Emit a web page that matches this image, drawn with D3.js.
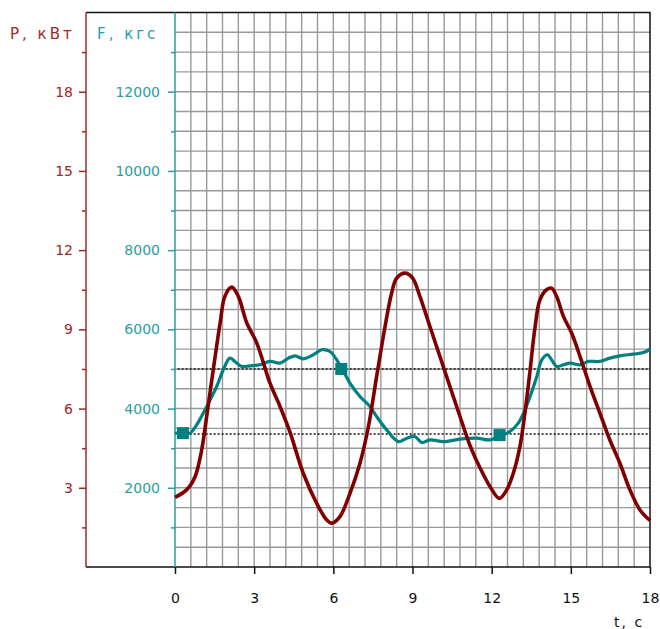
<!DOCTYPE html>
<html>
<head>
<meta charset="utf-8">
<script src="https://cdn.jsdelivr.net/npm/d3@7"></script>
<style>
  body { margin: 0; background: #fff; }
  text { font-family: "DejaVu Sans", sans-serif; font-size: 14px; }
</style>
</head>
<body>
<div id="chart"></div>
<script>
// power P, kW (dark red curve)
const pTime = [0, 0.44, 0.76, 1.01, 1.2, 1.45, 1.71, 1.89, 2.15, 2.4, 2.72, 3.1, 3.6, 3.98, 4.36, 4.86, 5.37, 5.75, 5.94, 6.25, 6.63, 7.01, 7.33, 7.64, 7.96, 8.21, 8.4, 8.72, 9.0, 9.28, 9.66, 10.04, 10.42, 10.8, 11.18, 11.56, 11.94, 12.29, 12.57, 12.82, 13.07, 13.26, 13.45, 13.64, 13.83, 14.08, 14.27, 14.46, 14.72, 15.03, 15.35, 15.73, 16.1, 16.48, 16.86, 17.24, 17.62, 18];
const pValue = [2.64, 2.92, 3.42, 4.43, 5.7, 7.47, 9.24, 10.25, 10.6, 10.25, 9.24, 8.48, 6.96, 6.08, 5.1, 3.55, 2.41, 1.78, 1.66, 1.91, 2.79, 3.93, 5.32, 7.21, 9.11, 10.38, 10.94, 11.13, 10.95, 10.25, 9.11, 7.97, 6.83, 5.7, 4.6, 3.75, 3.04, 2.6, 2.92, 3.55, 4.56, 5.83, 7.4, 9.05, 10.12, 10.5, 10.56, 10.25, 9.49, 8.86, 7.97, 6.83, 5.83, 4.81, 3.93, 2.92, 2.16, 1.76];

// force F, kgf (teal curve)
const fTime = [0, 0.32, 0.57, 0.82, 1.07, 1.33, 1.58, 1.83, 2.08, 2.27, 2.53, 2.84, 3.22, 3.6, 3.98, 4.3, 4.55, 4.86, 5.24, 5.56, 5.87, 6.13, 6.35, 6.63, 7.01, 7.39, 7.64, 8.02, 8.46, 8.78, 9.09, 9.35, 9.66, 10.17, 10.8, 11.43, 11.94, 12.32, 12.69, 13.01, 13.26, 13.48, 13.71, 13.9, 14.12, 14.27, 14.46, 14.72, 14.97, 15.35, 15.66, 16.1, 16.48, 16.86, 17.37, 17.75, 18];
const fValue = [3380, 3380, 3380, 3590, 3884, 4220, 4557, 4979, 5274, 5190, 5063, 5080, 5105, 5190, 5148, 5274, 5332, 5257, 5358, 5484, 5441, 5231, 4979, 4643, 4305, 4052, 3799, 3462, 3167, 3252, 3294, 3142, 3210, 3167, 3227, 3252, 3210, 3311, 3420, 3631, 3968, 4350, 4810, 5231, 5358, 5231, 5063, 5105, 5148, 5105, 5190, 5190, 5274, 5332, 5375, 5416, 5501];

// square markers on the force curve
const markTime = [0.3, 6.3, 12.3];
const markForce = [3380, 5000, 3330];

// dotted reference levels of F
const refForce = [5000, 3360];

const tTicks = [0, 3, 6, 9, 12, 15, 18];
const pTicks = [3, 6, 9, 12, 15, 18];
const pMinor = [1.5, 4.5, 7.5, 10.5, 13.5, 16.5, 19.5];
const fTicks = [2000, 4000, 6000, 8000, 10000, 12000];
const fMinor = [1000, 3000, 5000, 7000, 9000, 11000, 13000];

const W = 660, H = 629;
const plotLeft = 175, plotRight = 650, plotTop = 12.5, plotBottom = 567;
const redAxisX = 86;

const red = "#800000", redAxis = "#a02828";
const teal = "#008080", tealAxis = "#2a9e9e";

const svg = d3.select("#chart").append("svg")
  .attr("width", W).attr("height", H);

const x = d3.scaleLinear().domain([0, 18]).range([plotLeft, plotRight]);
const yF = d3.scaleLinear().domain([0, 14000]).range([plotBottom, plotTop]);
const yP = d3.scaleLinear().domain([0, 21]).range([plotBottom, plotTop]);

// grid
const grid = svg.append("g").attr("stroke", "#999").attr("stroke-width", 1.4);
grid.selectAll("line.v")
  .data(d3.range(1, 30).map(k => k * 0.6))
  .enter().append("line")
  .attr("x1", d => x(d)).attr("x2", d => x(d))
  .attr("y1", plotTop).attr("y2", plotBottom);
grid.selectAll("line.h")
  .data(d3.range(1, 28).map(k => k * 500))
  .enter().append("line")
  .attr("x1", plotLeft).attr("x2", plotRight)
  .attr("y1", d => yF(d)).attr("y2", d => yF(d));

// frame: top, right and bottom in black
svg.append("path")
  .attr("d", `M${redAxisX},${plotTop}H${plotRight}V${plotBottom}H${redAxisX}`)
  .attr("fill", "none").attr("stroke", "#111").attr("stroke-width", 1.5);

// dotted reference lines
svg.selectAll("line.ref")
  .data(refForce)
  .enter().append("line")
  .attr("x1", x(0.1)).attr("x2", plotRight)
  .attr("y1", d => yF(d)).attr("y2", d => yF(d))
  .attr("stroke", "#111").attr("stroke-width", 1.5)
  .attr("stroke-dasharray", "2,2");

// red P axis
const pAxis = svg.append("g").attr("transform", `translate(${redAxisX},0)`)
  .call(d3.axisLeft(yP).tickValues(pTicks).tickSize(7).tickPadding(6));
svg.append("g").attr("transform", `translate(${redAxisX},0)`)
  .call(d3.axisLeft(yP).tickValues(pMinor).tickSize(4).tickFormat(""))
  .call(g => g.select(".domain").remove())
  .selectAll("line").attr("stroke", redAxis).attr("stroke-width", 1.5);
pAxis.select(".domain").attr("d", `M0,${plotTop}V${plotBottom}`).attr("stroke", redAxis).attr("stroke-width", 1.5);
pAxis.selectAll(".tick line").attr("stroke", redAxis).attr("stroke-width", 1.5);
pAxis.selectAll(".tick text").attr("fill", redAxis).style("font-size", "14px").style("font-family", "DejaVu Sans");

// teal F axis
const fAxis = svg.append("g").attr("transform", `translate(${plotLeft},0)`)
  .call(d3.axisLeft(yF).tickValues(fTicks).tickSize(7).tickPadding(8).tickFormat(d3.format("d")));
svg.append("g").attr("transform", `translate(${plotLeft},0)`)
  .call(d3.axisLeft(yF).tickValues(fMinor).tickSize(4).tickFormat(""))
  .call(g => g.select(".domain").remove())
  .selectAll("line").attr("stroke", tealAxis).attr("stroke-width", 1.5);
fAxis.select(".domain").attr("d", `M0,${plotTop}V${plotBottom}`).attr("stroke", tealAxis).attr("stroke-width", 1.5);
fAxis.selectAll(".tick line").attr("stroke", tealAxis).attr("stroke-width", 1.5);
fAxis.selectAll(".tick text").attr("fill", tealAxis).style("font-size", "14px").style("font-family", "DejaVu Sans");

// time axis
const tAxis = svg.append("g").attr("transform", `translate(0,${plotBottom})`)
  .call(d3.axisBottom(x).tickValues(tTicks).tickSize(7).tickPadding(19));
tAxis.select(".domain").remove();
tAxis.selectAll(".tick line").attr("stroke", "#111").attr("stroke-width", 1.5);
tAxis.selectAll(".tick text").attr("fill", "#111").style("font-size", "14px").style("font-family", "DejaVu Sans");

// axis titles
svg.append("text").attr("x", 10).attr("y", 39).attr("fill", redAxis)
  .style("font-size", "15px").style("letter-spacing", "3px").text("P, кВт");
svg.append("text").attr("x", 97).attr("y", 39).attr("fill", tealAxis)
  .style("font-size", "15px").style("letter-spacing", "3px").text("F, кгс");
svg.append("text").attr("x", 614).attr("y", 627).attr("fill", "#111")
  .style("letter-spacing", "2px").text("t, с");

// curves
const fLine = d3.line().x((d, i) => x(fTime[i])).y(d => yF(d)).curve(d3.curveCatmullRom.alpha(0.5));
svg.append("path").datum(fValue)
  .attr("d", fLine).attr("fill", "none")
  .attr("stroke", teal).attr("stroke-width", 3.2).attr("stroke-linejoin", "round");

svg.selectAll("rect.mark")
  .data(markTime)
  .enter().append("rect")
  .attr("x", d => x(d) - 6).attr("y", (d, i) => yF(markForce[i]) - 6)
  .attr("width", 12).attr("height", 12)
  .attr("fill", teal);

const pLine = d3.line().x((d, i) => x(pTime[i])).y(d => yP(d)).curve(d3.curveCatmullRom.alpha(0.5));
svg.append("path").datum(pValue)
  .attr("d", pLine).attr("fill", "none")
  .attr("stroke", red).attr("stroke-width", 3.6).attr("stroke-linejoin", "round");
</script>
</body>
</html>
